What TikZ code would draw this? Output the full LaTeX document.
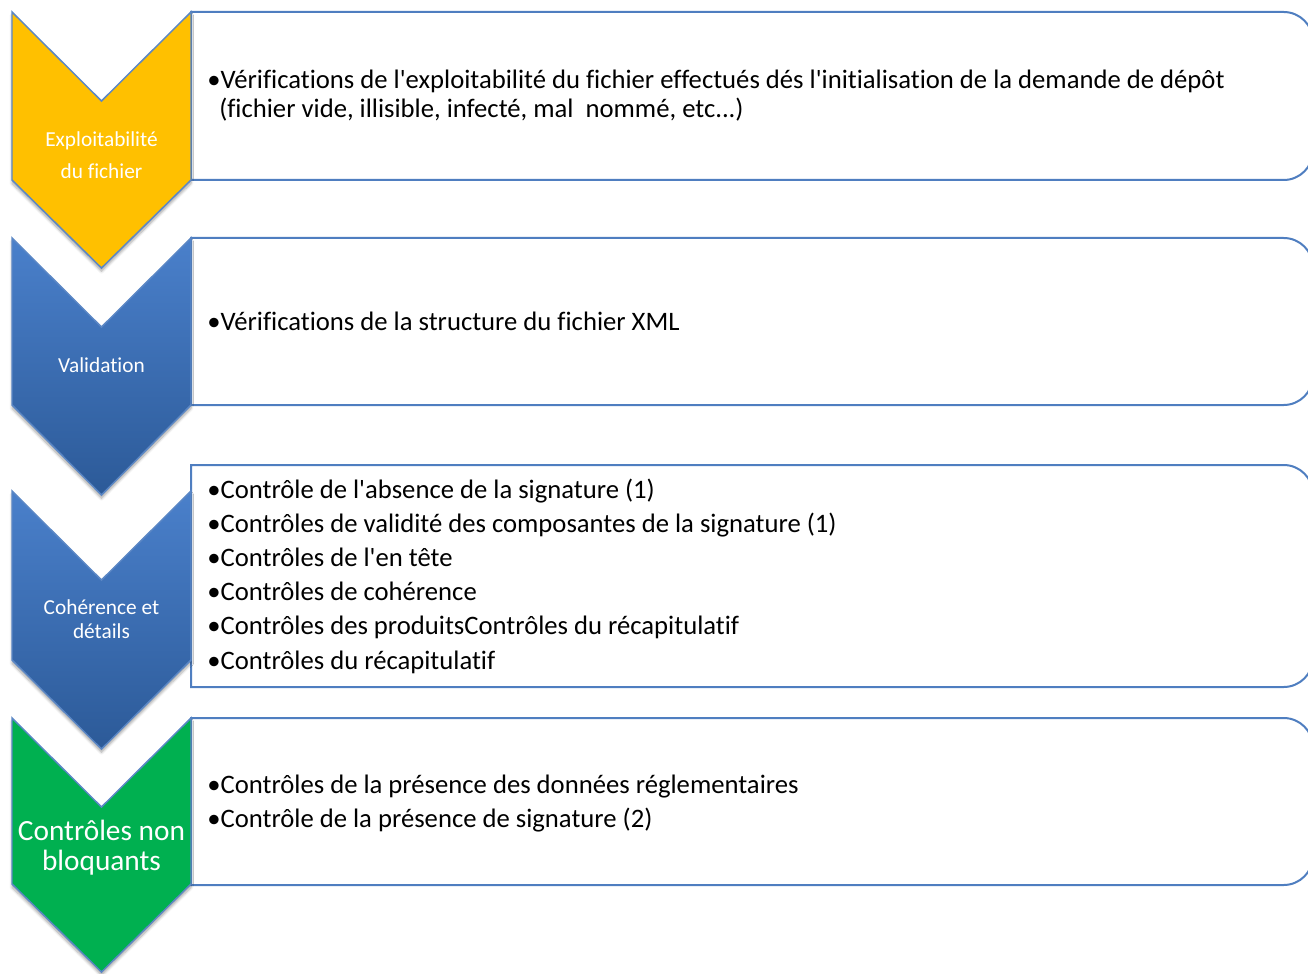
\documentclass[tikz,border=0pt]{standalone}
\usepackage{fontspec}
\setmainfont{Carlito}[Ligatures={TeXOff,NoCommon}]
\usepackage{tikz}
\usetikzlibrary{calc,shadows.blur}

\definecolor{stepyellow}{HTML}{FFC000}
\definecolor{stepgreen}{HTML}{00B050}
\definecolor{steptop}{HTML}{4A80CB}
\definecolor{stepbot}{HTML}{2C5A98}
\definecolor{stepline}{HTML}{5B87C5}
\definecolor{boxline}{HTML}{4F7EC0}

\begin{document}
\begin{tikzpicture}[
  x=0.75pt,
  y=-0.75pt
]

  \path[use as bounding box] (0,0) rectangle (1308,973);

  \tikzstyle{chevron}=[draw=stepline,line width=1.1pt,line join=miter,
    blur shadow={shadow xshift=0pt,shadow yshift=-2.5pt,shadow blur steps=6,shadow opacity=35}]
  \tikzstyle{chevblue}=[chevron,top color=steptop,bottom color=stepbot]
  \tikzstyle{listbox}=[draw=boxline,line width=1.5pt,fill=white]
  \tikzstyle{steplab}=[text=white,anchor=base,inner sep=0pt,font=\fontsize{16}{19}\selectfont]
  \tikzstyle{biglab}=[steplab,font=\fontsize{22}{26}\selectfont]
  \tikzstyle{itemtxt}=[anchor=base west,inner sep=0pt,font=\fontsize{20}{24}\selectfont]

  % boxes
  \draw[listbox] (191,12) [rounded corners=22pt] -- (1313,12) -- (1313,180) [sharp corners] -- (191,180) -- cycle;
  \draw[listbox] (191,238) [rounded corners=22pt] -- (1313,238) -- (1313,405) [sharp corners] -- (191,405) -- cycle;
  \draw[listbox] (191,465) [rounded corners=22pt] -- (1313,465) -- (1313,687) [sharp corners] -- (191,687) -- cycle;
  \draw[listbox] (191,718) [rounded corners=22pt] -- (1313,718) -- (1313,885) [sharp corners] -- (191,885) -- cycle;

  % chevrons, lowest first
  \draw[chevron,fill=stepgreen] (12,718) -- (101.5,807) -- (191,718) -- (191,884) -- (101.5,972) -- (12,884) -- cycle;
  \draw[chevblue] (12,491) -- (101.5,580) -- (191,491) -- (191,660) -- (101.5,749) -- (12,660) -- cycle;
  \draw[chevblue] (12,238) -- (101.5,327) -- (191,238) -- (191,405) -- (101.5,495) -- (12,405) -- cycle;
  \draw[chevron,fill=stepyellow] (12,12) -- (101.5,101) -- (191,12) -- (191,180) -- (101.5,268) -- (12,180) -- cycle;

  % labels
  \node[steplab] (fichier1) at (101.5,147) {Exploitabilité};
  \node[steplab] (fichier2) at (101.5,179) {du fichier};
  \node[steplab] (valid) at (101.5,372) {Validation};
  \node[steplab] (coher1) at (101.5,614) {Cohérence et};
  \node[steplab] (coher2) at (101.5,638) {détails};
  \node[biglab] (nonbloq1) at (101.5,840) {Contrôles non};
  \node[biglab] (nonbloq2) at (101.5,870) {bloquants};

  % texts
  \node[itemtxt] (t11) at (207,89) {•Vérifications de l'exploitabilité du fichier effectués dés l'initialisation de la demande de dépôt};
  \node[itemtxt] (t12) at (219,118) {(fichier vide, illisible, infecté, mal~~nommé, etc...)};
  \node[itemtxt] (t21) at (207,330) {•Vérifications de la structure du fichier XML};
  \node[itemtxt] (t31) at (207,498) {•Contrôle de l'absence de la signature (1)};
  \node[itemtxt] (t32) at (207,532.2) {•Contrôles de validité des composantes de la signature (1)};
  \node[itemtxt] (t33) at (207,566.4) {•Contrôles de l'en tête};
  \node[itemtxt] (t34) at (207,600.6) {•Contrôles de cohérence};
  \node[itemtxt] (t35) at (207,634.8) {•Contrôles des produitsContrôles du récapitulatif};
  \node[itemtxt] (t36) at (207,669) {•Contrôles du récapitulatif};
  \node[itemtxt] (t41) at (207,793) {•Contrôles de la présence des données réglementaires};
  \node[itemtxt] (t42) at (207,827) {•Contrôle de la présence de signature (2)};

\end{tikzpicture}
\end{document}
